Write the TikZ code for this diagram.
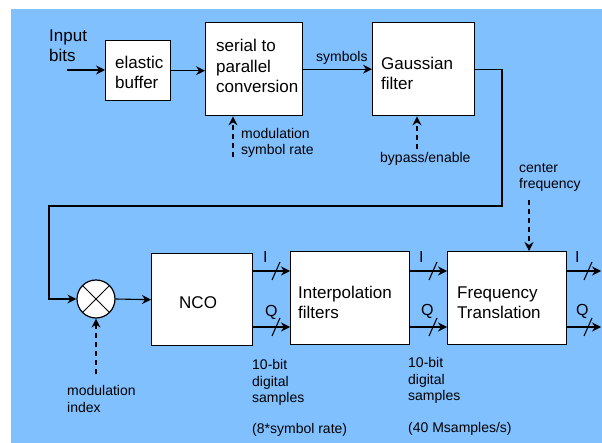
\documentclass[tikz,border=0pt]{standalone}
\usepackage{fontspec}
\setmainfont{Liberation Sans}
\usetikzlibrary{arrows.meta}
\definecolor{panel}{RGB}{128,192,255}

\begin{document}
\begin{tikzpicture}[x=1pt,y=-1pt,
  blk/.style={draw, line width=1.4pt, fill=white, inner sep=0pt, anchor=north west},
  wire/.style={line width=1.1pt},
  arr/.style={wire, -{Stealth[length=9pt,width=9pt,inset=3pt]}},
  ctl/.style={arr, dash pattern=on 5pt off 4pt},
  boxtxt/.style={font=\fontsize{17}{20.5}\selectfont, inner sep=0pt, align=left, anchor=base west},
  note/.style={font=\fontsize{14}{16.5}\selectfont, inner sep=0pt, align=left, anchor=base west},
  iq/.style={font=\fontsize{16}{19}\selectfont, inner sep=0pt, anchor=base west}]

\useasboundingbox (0,0) rectangle (602,443);
\fill[panel] (11,9) rectangle (602,443);

% processing blocks
\node[blk, minimum width=65pt,  minimum height=60pt] (eb)  at (105,40)  {};
\node[blk, minimum width=97pt,  minimum height=93pt] (sp)  at (205,22)  {};
\node[blk, minimum width=102pt, minimum height=93pt] (gf)  at (372,22)  {};
\node[blk, minimum width=101pt, minimum height=92pt] (nco) at (151,253) {};
\node[blk, minimum width=119pt, minimum height=93pt] (ip)  at (290,251) {};
\node[blk, minimum width=119pt, minimum height=93pt] (ft)  at (447,251) {};
\node[draw, circle, fill=white, minimum size=38pt, inner sep=0pt, line width=1.2pt,
      path picture={\draw[line width=1pt]
        (path picture bounding box.north west) -- (path picture bounding box.south east)
        (path picture bounding box.north east) -- (path picture bounding box.south west);}]
      (mix) at (96,299) {};

% block captions (placed by the baseline of their last line)
\node[boxtxt] (ebt)  at (115,89)  {elastic\\buffer};
\node[boxtxt] (spt)  at (216,93)  {serial to\\parallel\\conversion};
\node[boxtxt] (gft)  at (381,90)  {Gaussian\\filter};
\node[boxtxt] (ncot) at (179,309) {NCO};
\node[boxtxt] (ipt)  at (298,319) {Interpolation\\filters};
\node[boxtxt] (ftt)  at (457,319) {Frequency\\Translation};
\node[boxtxt] (inp)  at (49,62)   {Input\\bits};

% annotations
\node[note] (sym) at (316,62)  {symbols};
\node[note] (msr) at (241,155) {modulation\\symbol rate};
\node[note] (byp) at (380,163) {bypass/enable};
\node[note] (cf)  at (519,189) {center\\frequency};
\node[note] (mi)  at (67,412)  {modulation\\index};
\node[note] (s1)  at (252,433) {10-bit\\digital\\samples\\[14pt](8*symbol rate)};
\node[note] (s2)  at (408,432) {10-bit\\digital\\samples\\[15pt](40 Msamples/s)};

\node[iq] (i1) at (263,263) {I};
\node[iq] (q1) at (265,317) {Q};
\node[iq] (i2) at (419,263) {I};
\node[iq] (q2) at (421,316) {Q};
\node[iq] (i3) at (575,263) {I};
\node[iq] (q3) at (576,316) {Q};

% main signal path
\coordinate (in) at (67,70);
\draw[arr] (in) -- (in -| eb.west);
\draw[arr] (eb.east) -- (eb.east -| sp.west);
\draw[arr] (sp.east) -- (sp.east -| gf.west);
\coordinate (r1) at (502,206);
\coordinate (l1) at (49,206);
\draw[arr] (gf.east) -| (r1) -- (l1) |- (mix.west);
\draw[arr] (mix.east) -- (nco.west);

% I and Q buses
\draw[arr] (nco.east |- 0,271) -- (ip.west |- 0,271);
\draw[arr] (nco.east |- 0,327) -- (ip.west |- 0,327);
\draw[wire] (ip.west |- 0,271) ++(-18,9) -- ++(8,-18);
\draw[wire] (ip.west |- 0,327) ++(-18,9) -- ++(8,-18);

\draw[arr] (ip.east |- 0,271) -- (ft.west |- 0,271);
\draw[arr] (ip.east |- 0,327) -- (ft.west |- 0,327);
\draw[wire] (ft.west |- 0,271) ++(-18,9) -- ++(8,-18);
\draw[wire] (ft.west |- 0,327) ++(-18,9) -- ++(8,-18);

\coordinate (oI) at (601,271);
\coordinate (oQ) at (601,327);
\draw[arr] (ft.east |- oI) -- (oI);
\draw[arr] (ft.east |- oQ) -- (oQ);
\draw[wire] (oI) ++(-17,9) -- ++(8,-18);
\draw[wire] (oQ) ++(-17,9) -- ++(8,-18);

% control inputs
\coordinate (msrc) at (233,157);
\draw[ctl] (msrc) -- (msrc |- sp.south);
\coordinate (bsrc) at (417,149);
\draw[ctl] (bsrc) -- (bsrc |- gf.south);
\coordinate (mixsrc) at (96,374);
\draw[ctl] (mixsrc) -- (mix.south);
\coordinate (cfsrc) at (529,200);
\draw[ctl] (cfsrc) -- (cfsrc |- ft.north);
\end{tikzpicture}
\end{document}
